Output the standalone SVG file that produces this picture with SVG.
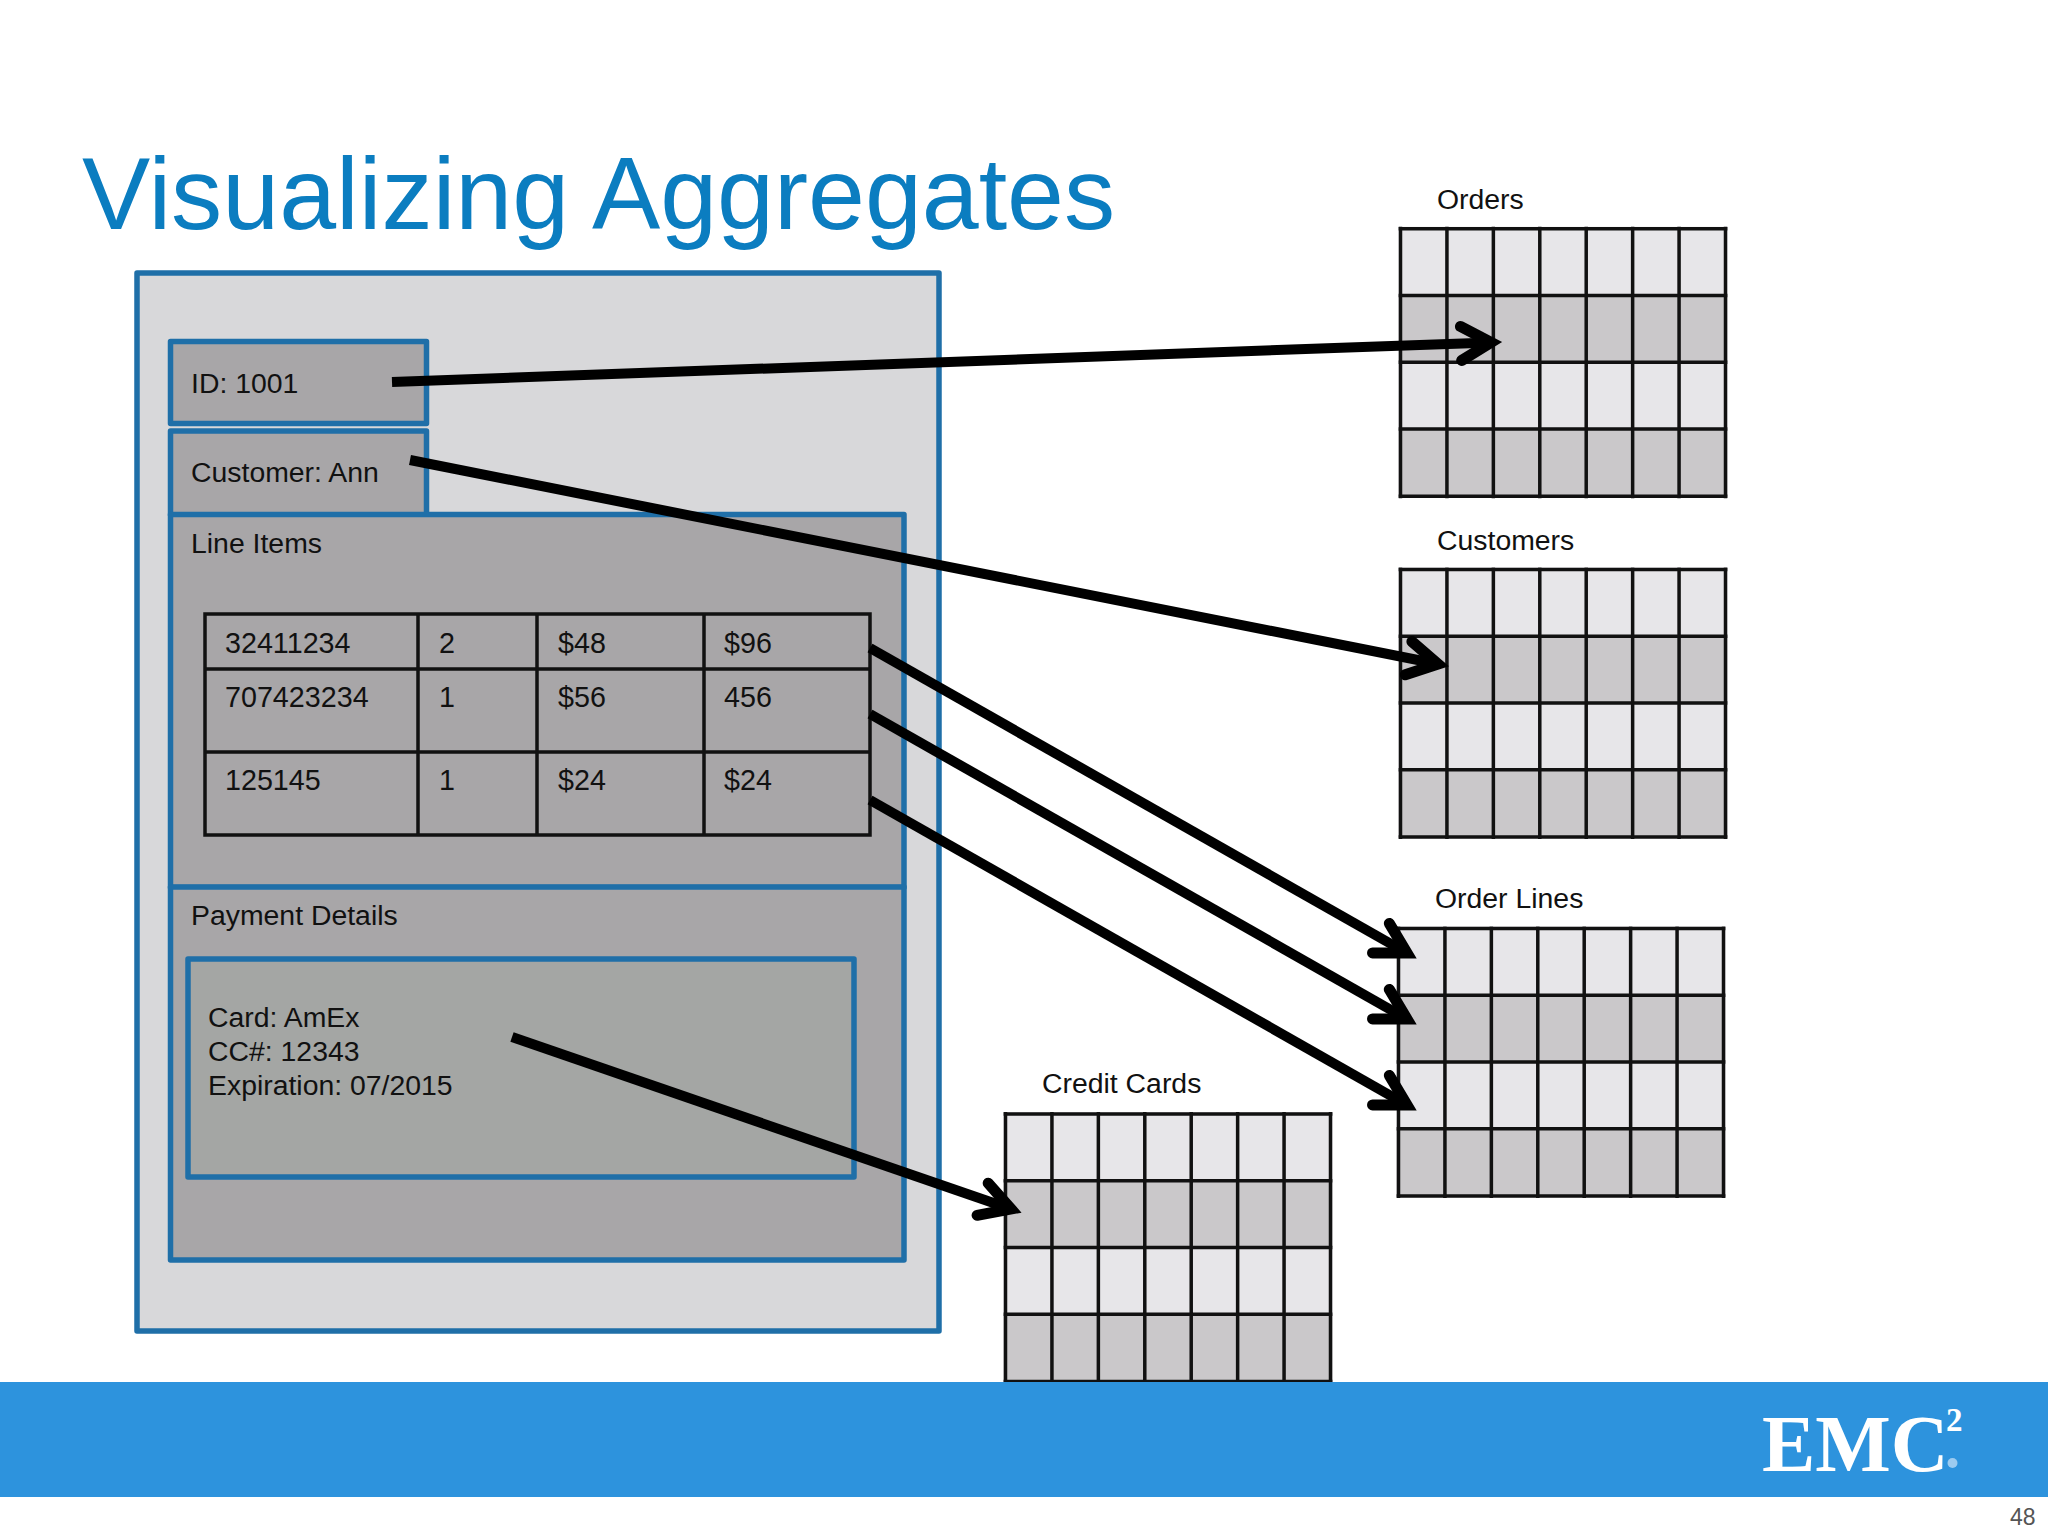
<svg xmlns="http://www.w3.org/2000/svg" width="2048" height="1536" viewBox="0 0 2048 1536">
<style>
text{font-family:"Liberation Sans",Arial,sans-serif;fill:#111}
.lb{font-size:28.4px}
.tb{font-size:28.7px}
.box{stroke:#1f6fa8;stroke-width:5.500;stroke-linejoin:round}
.dk{fill:#a8a6a8}
.a{fill:none;stroke:#000;stroke-width:10}
.t{fill:none;stroke:#111;stroke-width:3.500}
.g{fill:none;stroke:#111;stroke-width:3.500}
.c1{fill:#e7e6e9}
.c2{fill:#cac8ca}
</style>
<defs>
<marker id="ah" markerUnits="userSpaceOnUse" markerWidth="80" markerHeight="80" refX="44" refY="30" orient="auto" viewBox="0 0 80 60" overflow="visible">
<path d="M14 13 L44 30 L14 47" fill="none" stroke="#000" stroke-width="11" stroke-linecap="round" stroke-linejoin="miter" stroke-miterlimit="6"/>
</marker>
<g id="grid">
<rect width="329" height="68" y="0" class="c1"/><rect width="329" height="67" y="68" class="c2"/><rect width="329" height="67" y="135" class="c1"/><rect width="329" height="68" y="202" class="c2"/>
<path class="g" d="M2 0V271.500M48.430 0V271.500M94.860 0V271.500M141.290 0V271.500M187.710 0V271.500M234.140 0V271.500M280.570 0V271.500M327 0V271.500M0 2H329M0 68.750H329M0 135.500H329M0 202.250H329M0 269.500H329"/>
</g>
</defs>
<rect width="2048" height="1536" fill="#fff"/>
<g id="title"><text x="82" y="229" font-size="102.300" style="fill:#0b7dc0">Visualizing Aggregates</text></g>
<g id="aggregate"><rect class="box" x="137" y="273" width="802" height="1058" fill="#d8d8da"/></g>
<g id="id-box"><rect class="box dk" x="170.500" y="341.500" width="256" height="82"/><text class="lb" x="191" y="393">ID: 1001</text></g>
<g id="customer-box"><rect class="box dk" x="170.500" y="431" width="256" height="84"/><text class="lb" x="191" y="482">Customer: Ann</text></g>
<g id="line-items"><rect class="box dk" x="170.500" y="514.500" width="733.500" height="373"/><text class="lb" x="191" y="553">Line Items</text>
<rect x="205" y="614" width="665" height="221" fill="none" stroke="#111" stroke-width="3.500"/>
<path class="t" d="M205 669H870M205 752H870M418 614V835M537 614V835M704 614V835"/>
<text class="tb" x="225" y="653">32411234</text><text class="tb" x="439" y="653">2</text><text class="tb" x="558" y="653">$48</text><text class="tb" x="724" y="653">$96</text>
<text class="tb" x="225" y="707">707423234</text><text class="tb" x="439" y="707">1</text><text class="tb" x="558" y="707">$56</text><text class="tb" x="724" y="707">456</text>
<text class="tb" x="225" y="790">125145</text><text class="tb" x="439" y="790">1</text><text class="tb" x="558" y="790">$24</text><text class="tb" x="724" y="790">$24</text></g>
<g id="payment"><rect class="box dk" x="170.500" y="887" width="733.500" height="373"/><text class="lb" x="191" y="925">Payment Details</text>
<rect class="box" x="188" y="959" width="666" height="218" fill="#a4a6a4"/>
<text class="lb" x="208" y="1027">Card: AmEx</text><text class="lb" x="208" y="1061">CC#: 12343</text><text class="lb" x="208" y="1095">Expiration: 07/2015</text></g>
<g id="orders"><text class="lb" x="1437" y="209">Orders</text><use href="#grid" x="1398.500" y="226.700"/></g>
<g id="customers"><text class="lb" x="1437" y="550">Customers</text><use href="#grid" x="1398.500" y="567.500"/></g>
<g id="order-lines"><text class="lb" x="1435" y="908">Order Lines</text><use href="#grid" x="1396.500" y="926.500"/></g>
<g id="credit-cards"><text class="lb" x="1042" y="1093">Credit Cards</text><use href="#grid" x="1003.500" y="1112"/></g>
<g id="footer"><rect y="1382" width="2048" height="115" fill="#2d93dd"/>
<text x="1762" y="1471" font-size="80" font-weight="bold" style="font-family:'Liberation Serif',serif;fill:#fff">EMC</text>
<text x="1946" y="1431" font-size="33" font-weight="bold" style="font-family:'Liberation Serif',serif;fill:#fff">2</text>
<circle cx="1952.500" cy="1463" r="5" fill="#9ccbf0"/>
<text x="2010" y="1525" font-size="23" style="fill:#555">48</text></g>
<g id="connectors">
<line class="a" x1="392" y1="382" x2="1491" y2="342.400" marker-end="url(#ah)"/>
<line class="a" x1="410" y1="460" x2="1438" y2="664" marker-end="url(#ah)"/>
<line class="a" x1="870" y1="648" x2="1407" y2="953" marker-end="url(#ah)"/>
<line class="a" x1="870" y1="714" x2="1407" y2="1019" marker-end="url(#ah)"/>
<line class="a" x1="870" y1="800" x2="1407" y2="1105" marker-end="url(#ah)"/>
<line class="a" x1="512" y1="1037" x2="1011" y2="1209" marker-end="url(#ah)"/>
</g>
</svg>
